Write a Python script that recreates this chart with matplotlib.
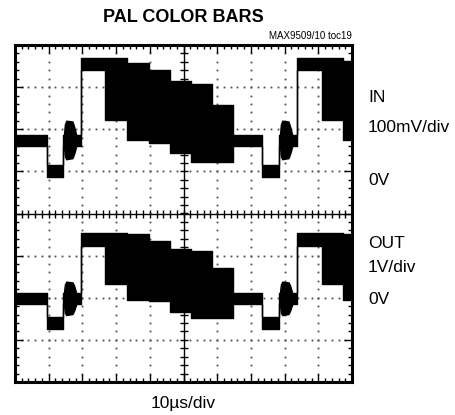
import numpy as np
import matplotlib
matplotlib.use("Agg")
from matplotlib import pyplot as plt

# segment edges in microseconds (10 us/div, 100 us across the screen)
seg_edges = [0, 9.5, 14.2, 19.6, 26.7, 33.2, 39.8, 46.0, 52.2, 58.5, 64.7,
             73.3, 78.3, 83.7, 91.1, 97.3, 100]
# blank, sync, porch, white, yellow, cyan, green, magenta, red, blue,
# black/blank, sync, porch, white, yellow, cyan
in_top = [1.86, 1.15, 1.86, 3.70, 3.70, 3.57, 3.41, 3.15, 3.08, 2.58,
          1.86, 1.15, 1.86, 3.70, 3.70, 3.62]
in_bot = [1.60, 0.87, 1.60, 3.40, 2.22, 1.75, 1.67, 1.44, 1.22, 1.22,
          1.60, 0.87, 1.60, 3.40, 2.22, 1.75]
out_top = [-1.89, -2.46, -1.89, -0.46, -0.46, -0.49, -0.65, -0.84, -0.89, -1.29,
           -1.89, -2.46, -1.89, -0.46, -0.46, -0.49]
out_bot = [-2.15, -2.74, -2.15, -0.77, -1.67, -2.05, -2.08, -2.34, -2.48, -2.48,
           -2.15, -2.74, -2.15, -0.77, -1.67, -2.05]

# colour burst envelope, times relative to start of each line
line_starts = [0, 64.1]
burst_t = [14.3, 14.6, 15.1, 17.2, 17.7, 18.4]
in_burst_top = [1.86, 2.12, 2.22, 2.20, 2.08, 1.86]
in_burst_bot = [1.60, 1.35, 1.27, 1.30, 1.40, 1.60]
out_burst_top = [-1.89, -1.68, -1.60, -1.62, -1.70, -1.89]
out_burst_bot = [-2.15, -2.36, -2.43, -2.40, -2.32, -2.15]

fig = plt.figure(figsize=(4.55, 4.15), dpi=100)
ax = fig.add_axes([15 / 455, 33 / 415, 337 / 455, 337 / 415])
ax.set_xlim(0, 100)
ax.set_ylim(-4, 4)

# graticule: dotted division lines
minor_x = np.arange(0, 100.01, 2)
minor_y = np.arange(-4, 4.01, 0.2)
for gy in [-3, -2, -1, 1, 2, 3]:
    ax.plot(minor_x, np.full_like(minor_x, gy), ls='none', marker='s',
            ms=1.3, mew=0, color='0.3', zorder=1)
for gx in [10, 20, 30, 40, 60, 70, 80, 90]:
    ax.plot(np.full_like(minor_y, gx), minor_y, ls='none', marker='s',
            ms=1.3, mew=0, color='0.3', zorder=1)

# centre crosshair with small ticks
ax.axhline(0, color='black', lw=1, zorder=1)
ax.axvline(50, color='black', lw=1, zorder=1)
ax.plot(minor_x, np.zeros_like(minor_x), ls='none', marker='|', ms=6,
        mew=1, color='black', zorder=1)
ax.plot(np.full_like(minor_y, 50), minor_y, ls='none', marker='_', ms=6,
        mew=1, color='black', zorder=1)

# traces
edges = np.array(seg_edges)
for top, bot, b_top, b_bot in [(in_top, in_bot, in_burst_top, in_burst_bot),
                               (out_top, out_bot, out_burst_top, out_burst_bot)]:
    top_s = top + [top[-1]]
    bot_s = bot + [bot[-1]]
    ax.fill_between(edges, bot_s, top_s, step='post', color='black',
                    lw=0, zorder=3)
    ax.step(edges, top_s, where='post', color='black', lw=1, zorder=3)
    ax.step(edges, bot_s, where='post', color='black', lw=1, zorder=3)
    for start in line_starts:
        bt = np.array(burst_t) + start
        ax.fill_between(bt, b_bot, b_top, color='black', lw=0, zorder=3)

# frame and edge ticks
for side in ax.spines.values():
    side.set_linewidth(2.2)
ax.set_xticks(np.arange(0, 101, 10))
ax.set_xticks(minor_x, minor=True)
ax.set_yticks(np.arange(-4, 5, 1))
ax.set_yticks(minor_y, minor=True)
ax.tick_params(which='both', direction='in', top=True, right=True,
               labelbottom=False, labelleft=False, color='black')
ax.tick_params(which='major', length=6, width=1)
ax.tick_params(which='minor', length=3, width=1)

title_font = ['Liberation Sans', 'DejaVu Sans']
body_font = ['Liberation Sans', 'DejaVu Sans']
fig.text(183.5 / 455, 1 - 18 / 415, 'PAL COLOR BARS', ha='center', va='center',
         fontsize=13, fontweight='bold', family=title_font)
fig.text(352 / 455, 1 - 36 / 415, 'MAX9509/10 toc19', ha='right', va='center',
         fontsize=7, family=title_font)

labels = [('IN', 97), ('100mV/div', 127), ('0V', 180),
          ('OUT', 243), ('1V/div', 267), ('0V', 299)]
for txt, ypix in labels:
    fig.text(368 / 455, 1 - ypix / 415, txt, ha='left', va='center',
             fontsize=12.5, family=body_font)
fig.text(183.5 / 455, 1 - 403 / 415, '10µs/div', ha='center', va='center',
         fontsize=12.5, family=body_font)

fig.savefig('out.png', dpi=100)
